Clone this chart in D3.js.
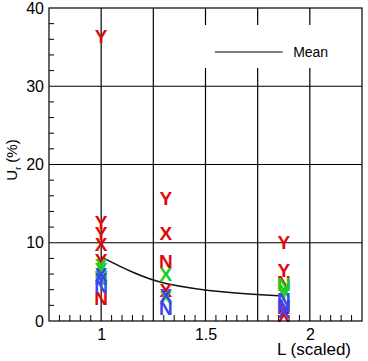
<!DOCTYPE html>
<html>
<head>
<meta charset="utf-8">
<script src="https://cdn.jsdelivr.net/npm/d3@7.9.0/dist/d3.min.js"></script>
<style>
  body { margin: 0; background: #fff; }
  svg { display: block; font-family: 'Liberation Sans', Arial, sans-serif; }
</style>
</head>
<body>
<svg id="chart" width="368" height="361"></svg>
<script>
// Scaled length positions and mean curve
const lengths = [1, 1.31, 1.875];
const meanValues = [8.2, 4.8, 3.2];

// Symbol points per series: [L, letter, Ur %]
const redPoints = [
  [1, 'Y', 36.4], [1, 'Y', 12.6], [1, 'Y', 11.2], [1, 'X', 9.8], [1, 'Y', 7.8], [1, 'N', 2.9],
  [1.31, 'Y', 15.7], [1.31, 'X', 11.2], [1.31, 'N', 7.7], [1.31, 'X', 4.0],
  [1.875, 'Y', 10.1], [1.875, 'Y', 6.5], [1.875, 'N', 5.0], [1.875, 'N', 1.8], [1.875, 'X', 0.7]
];
const greenPoints = [
  [1, 'X', 7.2], [1, 'Y', 6.6], [1, 'N', 5.5],
  [1.31, 'X', 6.0], [1.31, 'X', 3.0],
  [1.875, 'N', 4.7], [1.875, 'X', 4.0], [1.875, 'Y', 3.4]
];
const bluePoints = [
  [1, 'X', 6.0], [1, 'Y', 5.3], [1, 'N', 4.4],
  [1.31, 'X', 3.3], [1.31, 'N', 1.7],
  [1.875, 'N', 2.8], [1.875, 'N', 2.0], [1.875, 'X', 1.3]
];

const xTicks = [1, 1.5, 2];
const yTicks = [0, 10, 20, 30, 40];

const margin = { left: 49, top: 8, right: 6, bottom: 40 };
const width = 368 - margin.left - margin.right;
const height = 361 - margin.top - margin.bottom;

const svg = d3.select('#chart');
const g = svg.append('g').attr('transform', `translate(${margin.left},${margin.top})`);

const x = d3.scaleLinear().domain([0.75, 2.25]).range([0, width]);
const y = d3.scaleLinear().domain([0, 40]).range([height, 0]);

// Grid lines
g.selectAll('.vgrid')
  .data(d3.range(1, 2.01, 0.25))
  .join('line')
  .attr('x1', d => x(d)).attr('x2', d => x(d))
  .attr('y1', 0).attr('y2', height)
  .attr('stroke', '#000').attr('stroke-width', 1.2);

g.selectAll('.hgrid')
  .data([10, 20, 30])
  .join('line')
  .attr('x1', 0).attr('x2', width)
  .attr('y1', d => y(d)).attr('y2', d => y(d))
  .attr('stroke', '#000').attr('stroke-width', 1.2);

// Minor ticks
const xMinor = d3.range(0.8, 2.25, 0.05).filter(d => Math.abs(d * 4 - Math.round(d * 4)) > 1e-6);
g.append('g').selectAll('line')
  .data(xMinor)
  .join('line')
  .attr('x1', d => x(d)).attr('x2', d => x(d))
  .attr('y1', height).attr('y2', height - 6)
  .attr('stroke', '#000').attr('stroke-width', 1);

const yMinor = d3.range(2, 40, 2).filter(d => d % 10 !== 0);
g.append('g').selectAll('line')
  .data(yMinor)
  .join('line')
  .attr('x1', 0).attr('x2', 5)
  .attr('y1', d => y(d)).attr('y2', d => y(d))
  .attr('stroke', '#000').attr('stroke-width', 1);

// Axes labels via d3 axes
const xAxis = g.append('g')
  .attr('transform', `translate(0,${height})`)
  .call(d3.axisBottom(x).tickValues(xTicks).tickSize(0).tickPadding(8).tickFormat(d3.format('')));
const yAxis = g.append('g')
  .call(d3.axisLeft(y).tickValues(yTicks).tickSize(0).tickPadding(5));
[xAxis, yAxis].forEach(a => {
  a.select('.domain').remove();
  a.selectAll('text').attr('font-size', 16).attr('fill', '#000')
    .attr('font-family', "'Liberation Sans', Arial, sans-serif");
});

// Legend box
const legend = g.append('g');
legend.append('rect')
  .attr('x', x(1.465)).attr('y', 17)
  .attr('width', x(2.14) - x(1.465)).attr('height', 43)
  .attr('fill', '#fff');
legend.append('line')
  .attr('x1', x(1.545)).attr('x2', x(1.87))
  .attr('y1', 44).attr('y2', 44)
  .attr('stroke', '#000').attr('stroke-width', 1.2);
legend.append('text')
  .attr('x', x(1.92)).attr('y', 49)
  .attr('font-size', 14).text('Mean');

// Mean curve
const meanData = lengths.map((l, i) => [l, meanValues[i]]);
g.append('path')
  .datum(meanData)
  .attr('fill', 'none')
  .attr('stroke', '#111')
  .attr('stroke-width', 1.5)
  .attr('d', d3.line().x(d => x(d[0])).y(d => y(d[1])).curve(d3.curveMonotoneX));

// Letter symbols
const series = [
  { pts: redPoints, color: '#dd0a0a' },
  { pts: greenPoints, color: '#1ecc1e' },
  { pts: bluePoints, color: '#3a44f0' }
];
series.forEach(s => {
  g.append('g').selectAll('text')
    .data(s.pts)
    .join('text')
    .attr('x', d => x(d[0]))
    .attr('y', d => y(d[2]))
    .attr('dy', '0.36em')
    .attr('text-anchor', 'middle')
    .attr('font-size', 19)
    .attr('font-weight', 'bold')
    .attr('fill', s.color)
    .text(d => d[1]);
});

// Frame
g.append('rect')
  .attr('width', width).attr('height', height)
  .attr('fill', 'none').attr('stroke', '#000').attr('stroke-width', 1.2);

// Axis titles
svg.append('text')
  .attr('x', 351).attr('y', 355)
  .attr('text-anchor', 'end')
  .attr('font-size', 17)
  .text('L (scaled)');

const yt = svg.append('text')
  .attr('transform', 'translate(17,160) rotate(-90)')
  .attr('text-anchor', 'middle')
  .attr('font-size', 15);
yt.append('tspan').text('U');
yt.append('tspan').attr('font-size', 9).attr('dy', 4).text('r');
yt.append('tspan').attr('dy', -4).text(' (%)');
</script>
</body>
</html>
